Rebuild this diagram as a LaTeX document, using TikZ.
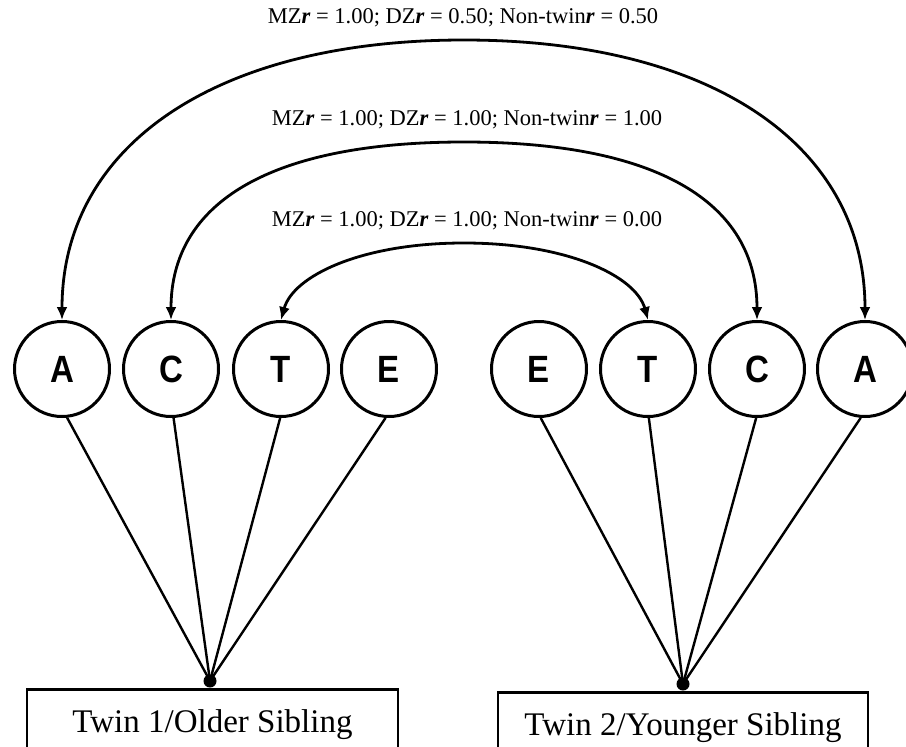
\documentclass[tikz,border=0pt]{standalone}
\usepackage{fontspec}
\setmainfont{Liberation Serif}
\newfontfamily\letterfont{Liberation Sans}
\usetikzlibrary{arrows.meta}
\begin{document}
\begin{tikzpicture}[x=1pt,y=-1pt,
  factor/.style={circle, draw, line width=3pt, minimum size=95pt, inner sep=0pt,
    font=\letterfont\bfseries\fontsize{38}{38}\selectfont},
  corr/.style={{Latex[length=13pt,width=11pt]}-{Latex[length=13pt,width=11pt]}, line width=2.8pt},
  loading/.style={line width=2.4pt},
  sibling/.style={draw, line width=2.6pt, minimum width=371pt, minimum height=80pt, anchor=north,
    inner sep=0pt, text height=23pt, text depth=17pt, font=\fontsize{33}{33}\selectfont},
  rlabel/.style={font=\fontsize{22.5}{24}\selectfont, inner sep=0pt},
  junction/.style={circle, fill=black, inner sep=0pt, minimum size=13pt}
]
\useasboundingbox (0,0) rectangle (906,747);
\clip (0,0) rectangle (906,747);

% latent factors
\node[factor] (A1) at (62,369) {\scalebox{0.87}[1]{A}};
\node[factor] (C1) at (171,369) {\scalebox{0.87}[1]{C}};
\node[factor] (T1) at (281,369) {\scalebox{0.87}[1]{T}};
\node[factor] (E1) at (389,369) {\scalebox{0.87}[1]{E}};
\node[factor] (E2) at (539,369) {\scalebox{0.87}[1]{E}};
\node[factor] (T2) at (648,369) {\scalebox{0.87}[1]{T}};
\node[factor] (C2) at (757,369) {\scalebox{0.87}[1]{C}};
\node[factor] (A2) at (865,369) {\scalebox{0.87}[1]{A}};

% observed
\node[sibling] (B1) at (212.5,688) {Twin 1/Older Sibling};
\node[sibling, minimum width=370pt] (B2) at (683,691) {Twin 2/Younger Sibling};

\node[junction] (J1) at (210,681) {};
\node[junction] (J2) at (683,684) {};

% loadings
\draw[loading] (A1.-84) -- (J1.center);
\draw[loading] (C1.-87) -- (J1.center);
\draw[loading] (T1.-91) -- (J1.center);
\draw[loading] (E1.-94) -- (J1.center);
\draw[loading] (E2.-88) -- (J2.center);
\draw[loading] (T2.-89) -- (J2.center);
\draw[loading] (C2.-91) -- (J2.center);
\draw[loading] (A2.-95) -- (J2.center);

% correlations
\coordinate (top1) at (464,40);
\coordinate (top2) at (464,142);
\coordinate (top3) at (464,243);
\draw[corr] (A1.north) .. controls +(0,-174) and +(-249,0) .. (top1)
  .. controls +(249,0) and +(0,-174) .. (A2.north);
\draw[corr] (C1.north) .. controls +(0,-118) and +(-193,0) .. (top2)
  .. controls +(193,0) and +(0,-118) .. (C2.north);
\draw[corr] (T1.north) .. controls +(12,-44) and +(-103,0) .. (top3)
  .. controls +(103,0) and +(-12,-44) .. (T2.north);

% labels
\node[rlabel] (L1) at (463,18) {MZ\textbf{\textit{r}} = 1.00; DZ\textbf{\textit{r}} = 0.50; Non-twin\textbf{\textit{r}} = 0.50};
\node[rlabel] (L2) at (467,120) {MZ\textbf{\textit{r}} = 1.00; DZ\textbf{\textit{r}} = 1.00; Non-twin\textbf{\textit{r}} = 1.00};
\node[rlabel] (L3) at (467,221) {MZ\textbf{\textit{r}} = 1.00; DZ\textbf{\textit{r}} = 1.00; Non-twin\textbf{\textit{r}} = 0.00};
\end{tikzpicture}
\end{document}
